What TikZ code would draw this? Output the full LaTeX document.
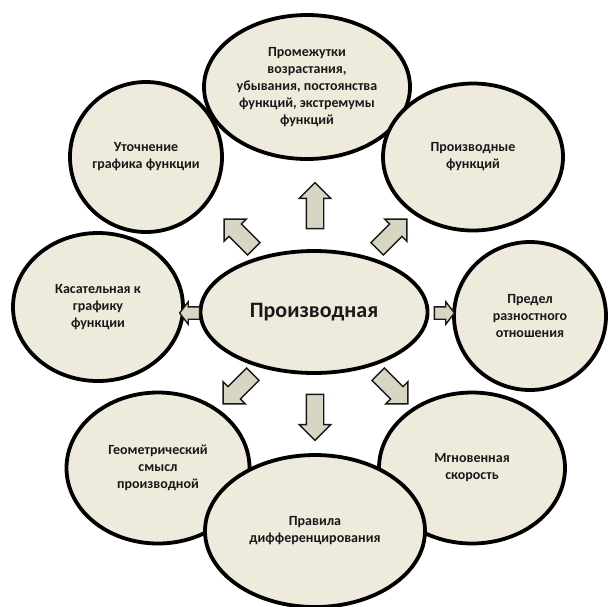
\documentclass[tikz,border=0pt]{standalone}
\usepackage{fontspec}
\setmainfont{Carlito}
\usetikzlibrary{shapes.geometric,shapes.arrows}
\definecolor{eggin}{RGB}{238,235,221}
\definecolor{eggout}{RGB}{206,201,178}
\definecolor{arrfill}{RGB}{217,213,195}
\definecolor{ink}{RGB}{25,25,25}
\pgfdeclareradialshading{egg}{\pgfpoint{0bp}{0bp}}{color(0bp)=(eggin); color(32bp)=(eggin); color(50bp)=(eggout)}
\tikzset{ov/.style={ellipse,draw=black,line width=3.8pt,shading=egg,align=center,inner sep=0pt,text=ink,font=\bfseries\fontsize{14}{17}\selectfont}}
\tikzset{ar/.style={single arrow,draw=ink,line width=1.4pt,fill=arrfill,inner sep=0pt,inner ysep=8pt,minimum width=1pt,single arrow head extend=7pt,minimum height=46pt}}
\tikzset{sm/.style={inner ysep=5.5pt,single arrow head extend=5pt,single arrow tip angle=105,minimum height=20pt}}

\begin{document}
\begin{tikzpicture}[x=1pt,y=-1pt]
\useasboundingbox (0,0) rectangle (609,606);
\node[ov,minimum width=206pt,minimum height=144pt] (prom) at (307,87) {Промежутки\\возрастания,\\убывания, постоянства\\функций, экстремумы\\функций};
\node[ov,minimum width=152pt,minimum height=150pt] (utoch) at (146,157) {Уточнение\\графика функции};
\node[ov,minimum width=180pt,minimum height=147pt] (proizf) at (473,157) {Производные\\функций};
\node[ov,minimum width=170pt,minimum height=148pt] (kas) at (98,307) {Касательная к\\графику\\функции};
\node[ov,minimum width=152pt,minimum height=148pt] (pred) at (530,316) {Предел\\разностного\\отношения};
\node[ov,minimum width=227pt,minimum height=122pt,font=\bfseries\fontsize{22}{26}\selectfont] (P) at (314,312) {Производная};
\node[ov,minimum width=183pt,minimum height=151pt] (geom) at (158,468) {Геометрический\\смысл\\производной};
\node[ov,minimum width=186pt,minimum height=151pt] (mgn) at (472,468) {Мгновенная\\скорость};
\node[ov,minimum width=220pt,minimum height=152pt] (prav) at (315,531) {Правила\\дифференцирования};
% arrows
\node[ar,rotate=90] (aU) at (315,210) {};
\node[ar,rotate=-90] (aD) at (315,413) {};
\node[ar,sm,rotate=180] (aL) at (192,313) {};
\node[ar,sm] (aR) at (442,313) {};
\node[ar,rotate=135,minimum height=42pt] (aUL) at (242,237) {};
\node[ar,rotate=45,minimum height=42pt] (aUR) at (389,237) {};
\node[ar,rotate=225,minimum height=42pt] (aDL) at (241,386) {};
\node[ar,rotate=-45,minimum height=42pt] (aDR) at (390,386) {};
\end{tikzpicture}
\end{document}
